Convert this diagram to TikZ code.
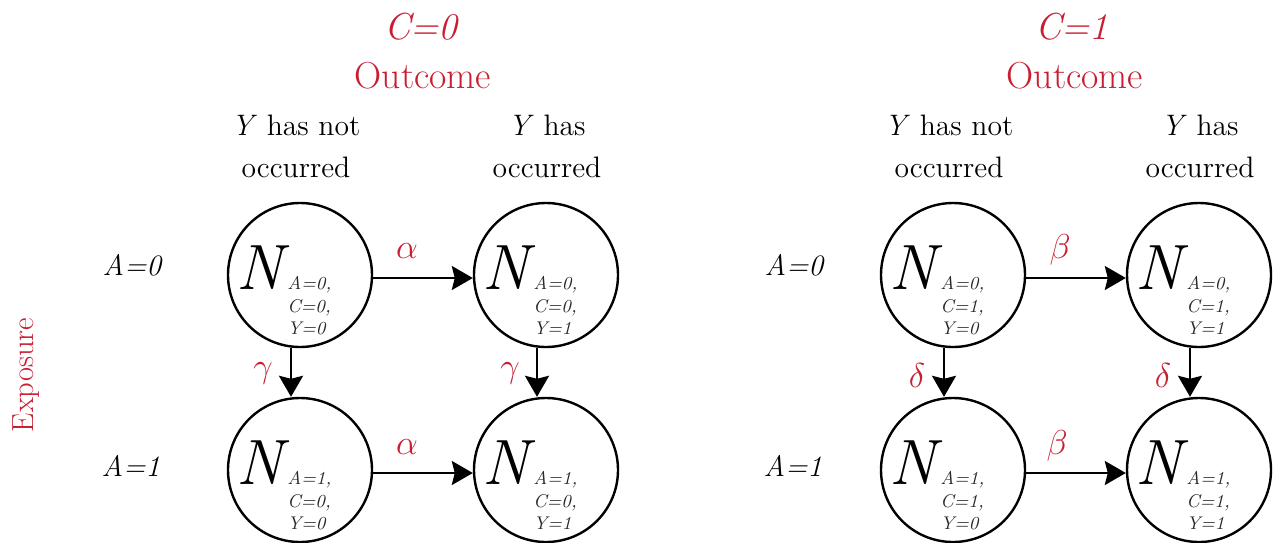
\documentclass[tikz,border=0pt]{standalone}
\usepackage{fontspec}
\usetikzlibrary{arrows.meta,calc}
\definecolor{redc}{RGB}{200,30,50}
\definecolor{subc}{RGB}{40,40,40}
\newcommand\cellN[6]{%
  \node[state] (#1) at (#2,#3) {};
  \node[bigN] (#1N) at ($(#1)+(-64,14)$) {N};
  \node[subl] (#1S) at ($(#1)+(-13,1)$) {A=#4,\\C=#5,\\Y=#6};
}
\begin{document}
\begin{tikzpicture}[x=0.5pt,y=-0.5pt,
  state/.style={circle,draw,line width=1.2pt,minimum size=72pt,inner sep=0pt},
  bigN/.style={font=\fontsize{32}{32}\selectfont\itshape,inner sep=0pt,anchor=base west},
  subl/.style={font=\fontsize{9.2}{11.25}\selectfont\itshape,text=subc,inner sep=0pt,anchor=north west,align=left},
  arr/.style={line width=1.2pt,-{Stealth[length=10.5pt,width=12pt,inset=1.5pt]}},
  glab/.style={font=\fontsize{17}{17}\selectfont,text=redc,inner sep=0pt,anchor=base},
  head/.style={font=\fontsize{18.8}{22}\selectfont,text=redc,inner sep=0pt,anchor=base},
  ylab/.style={font=\fontsize{14.8}{21}\selectfont,inner sep=0pt,align=center,anchor=center},
  alab/.style={font=\fontsize{14.8}{18}\selectfont\itshape,inner sep=0pt,anchor=base},
]
\useasboundingbox (0,0) rectangle (1280,542);

% headers
\node[head] (c0) at (421,39) {\itshape C=0};
\node[head] (o0) at (423,88) {Outcome};
\node[head] (c1) at (1072,39) {\itshape C=1};
\node[head] (o1) at (1075,88) {Outcome};

\node[ylab] (y00) at (296,146) {\textit{Y} has not\\occurred};
\node[ylab] (y01) at (547,146) {\textit{Y} has\\occurred};
\node[ylab] (y10) at (949,146) {\textit{Y} has not\\occurred};
\node[ylab] (y11) at (1200,146) {\textit{Y} has\\occurred};

\node[alab] (a00) at (132,275) {A=0};
\node[alab] (a01) at (131,476) {A=1};
\node[alab] (a10) at (794,275) {A=0};
\node[alab] (a11) at (793,476) {A=1};

\node[font=\fontsize{15.3}{18}\selectfont,text=redc,rotate=90,anchor=base,inner sep=0pt] (exp) at (33,375) {Exposure};

% cells
\cellN{p00}{300}{275}{0}{0}{0}
\cellN{p01}{546}{275}{0}{0}{1}
\cellN{p10}{300}{470}{1}{0}{0}
\cellN{p11}{546}{470}{1}{0}{1}
\cellN{q00}{953}{275}{0}{1}{0}
\cellN{q01}{1199}{275}{0}{1}{1}
\cellN{q10}{953}{470}{1}{1}{0}
\cellN{q11}{1199}{470}{1}{1}{1}

% arrows
\draw[arr] ([yshift=-1.5pt]p00.east) -- ([yshift=-1.5pt]p01.west);
\draw[arr] ([yshift=-1.5pt]p10.east) -- ([yshift=-1.5pt]p11.west);
\draw[arr] ([xshift=-4.5pt]p00.south) -- ([xshift=-4.5pt]p10.north);
\draw[arr] ([xshift=-4.5pt]p01.south) -- ([xshift=-4.5pt]p11.north);
\draw[arr] ([yshift=-1.5pt]q00.east) -- ([yshift=-1.5pt]q01.west);
\draw[arr] ([yshift=-1.5pt]q10.east) -- ([yshift=-1.5pt]q11.west);
\draw[arr] ([xshift=-4.5pt]q00.south) -- ([xshift=-4.5pt]q10.north);
\draw[arr] ([xshift=-4.5pt]q01.south) -- ([xshift=-4.5pt]q11.north);

% rate labels
\node[glab] (al0) at (407,258) {$\alpha$};
\node[glab] (al1) at (407,454) {$\alpha$};
\node[glab] (ga0) at (263,377) {$\gamma$};
\node[glab] (ga1) at (510,377) {$\gamma$};
\node[glab] (be0) at (1060,258) {$\beta$};
\node[glab] (be1) at (1057,454) {$\beta$};
\node[glab] (de0) at (917,387) {$\delta$};
\node[glab] (de1) at (1163,387) {$\delta$};
\end{tikzpicture}
\end{document}
